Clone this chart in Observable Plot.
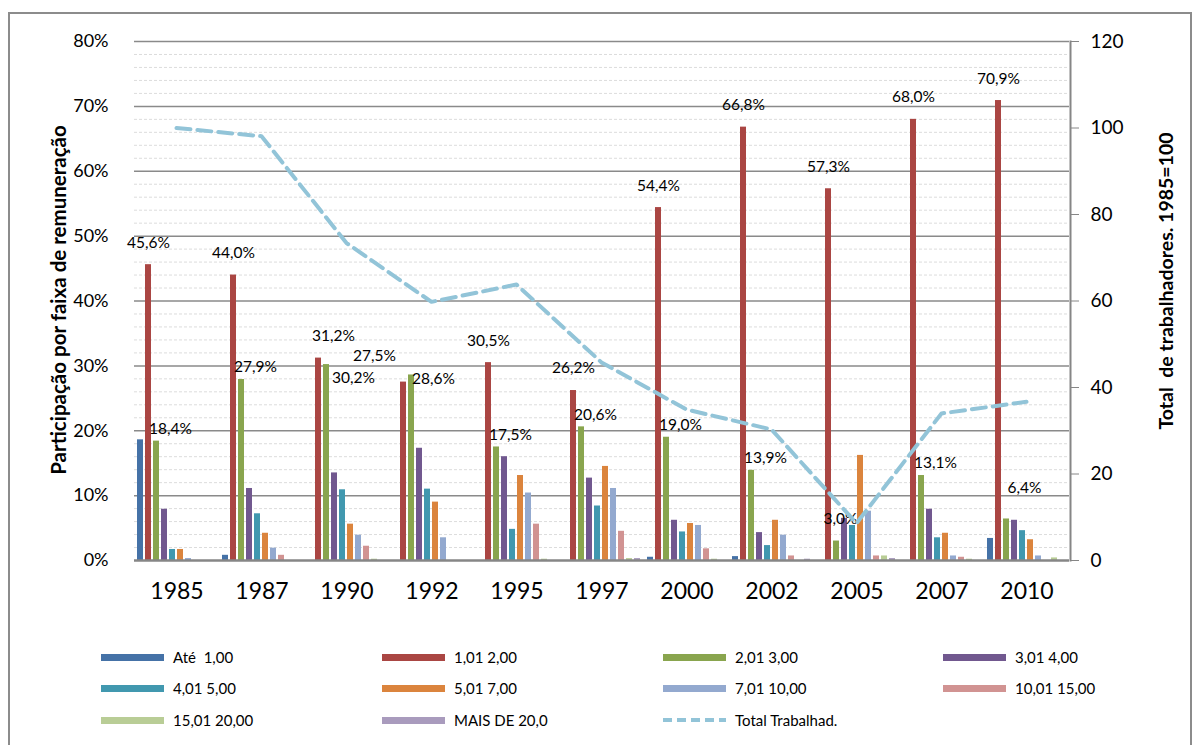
<!DOCTYPE html>
<html>
<head>
<meta charset="utf-8">
<script src="https://cdn.jsdelivr.net/npm/d3@7"></script>
<script src="https://cdn.jsdelivr.net/npm/@observablehq/plot@0.6"></script>
<style>
  body { margin: 0; background: #fff; font-family: Lato, "Open Sans", sans-serif; }
  #wrap { position: relative; width: 1200px; height: 745px; overflow: hidden; background: #fff; }
  #border { position: absolute; left: 8px; top: 12px; width: 1184px; height: 760px; border: 2px solid #8c8c8c; box-sizing: border-box; }
  .layer { position: absolute; left: 0; top: 0; }
  .ytitle { position: absolute; font-weight: bold; white-space: pre; color: #000;
            transform: translate(-50%, -50%) rotate(-90deg); }
  .lg { position: absolute; font-size: 15px; color: #000; display: flex; align-items: center; white-space: pre; }
  .sw { display: inline-block; width: 63px; height: 7px; margin-right: 9px; }
</style>
</head>
<body>
<div id="wrap">
  <div id="border"></div>
  <div id="bars" class="layer"></div>
  <div id="line" class="layer"></div>
  <div class="ytitle" style="left:58px; top:300px; font-size:20.5px;">Participação por faixa de remuneração</div>
  <div class="ytitle" style="left:1165px; top:281px; font-size:19.5px;">Total  de trabalhadores. 1985=100</div>
  <div id="legend"></div>
</div>
<script>
// ---- Data ----
const years = ["1985","1987","1990","1992","1995","1997","2000","2002","2005","2007","2010"];
const series = ["Até  1,00","1,01 2,00","2,01 3,00","3,01 4,00","4,01 5,00","5,01 7,00","7,01 10,00","10,01 15,00","15,01 20,00","MAIS DE 20,0"];
const colors = ["#4572A7","#AA4643","#89A54E","#71588F","#4198AF","#DB843D","#93A9CF","#D19392","#B9CD96","#A99BBD"];

const ate1   = [18.6, 0.8, 0.0, 0.0, 0.0, 0.0, 0.5, 0.6, 0.0, 0.0, 3.4];
const s1a2   = [45.6, 44.0, 31.2, 27.5, 30.5, 26.2, 54.4, 66.8, 57.3, 68.0, 70.9];
const s2a3   = [18.4, 27.9, 30.2, 28.6, 17.5, 20.6, 19.0, 13.9, 3.0, 13.1, 6.4];
const s3a4   = [7.9, 11.1, 13.5, 17.3, 16.0, 12.7, 6.2, 4.3, 6.5, 7.9, 6.2];
const s4a5   = [1.7, 7.2, 10.9, 11.0, 4.8, 8.4, 4.4, 2.3, 5.4, 3.5, 4.6];
const s5a7   = [1.7, 4.2, 5.6, 9.0, 13.1, 14.5, 5.7, 6.2, 16.2, 4.2, 3.2];
const s7a10  = [0.3, 1.9, 3.9, 3.5, 10.4, 11.1, 5.4, 3.9, 7.6, 0.7, 0.7];
const s10a15 = [0.0, 0.8, 2.2, 0.0, 5.6, 4.5, 1.8, 0.7, 0.7, 0.5, 0.0];
const s15a20 = [0.0, 0.0, 0.2, 0.0, 0.2, 0.3, 0.2, 0.0, 0.7, 0.2, 0.4];
const mais20 = [0.0, 0.0, 0.0, 0.0, 0.0, 0.3, 0.0, 0.2, 0.3, 0.0, 0.0];

const totalTrab = [100, 98.1, 73.4, 59.8, 63.8, 45.8, 34.9, 30.3, 8.6, 34.0, 36.7];
const lineName = "Total Trabalhad.";

const leftTicks = [0, 10, 20, 30, 40, 50, 60, 70, 80];
const minorTicks = d3.range(0, 81, 2).filter(d => d % 10 !== 0);
const rightTicks = [0, 20, 40, 60, 80, 100, 120];
const labeledRed = "1,01 2,00";
const labeledGreen = "2,01 3,00";

// ---- Label placement tweaks (style, in px) ----
const redDefault = {dx: 0, dy: -22};
const redTweaks = {"1990": {dx: 15, dy: -22}, "1992": {dx: -29, dy: -26}};
const greenDefault = {dx: 14, dy: -12};
const greenTweaks = {"1990": {dx: 27, dy: 13}, "1992": {dx: 22, dy: 4}, "2005": {dx: 4, dy: -22}, "2010": {dx: 18, dy: -31}};

// ---- Build tables ----
const seriesValues = [ate1, s1a2, s2a3, s3a4, s4a5, s5a7, s7a10, s10a15, s15a20, mais20];
const rows = [];
years.forEach((yr, i) => seriesValues.forEach((arr, j) => rows.push({year: yr, series: series[j], value: arr[i]})));
const lineRows = years.map((yr, i) => ({year: yr, value: totalTrab[i]}));
const fmt = v => v.toFixed(1).replace(".", ",") + "%";

const W = 1200, H = 620, mL = 132, mR = 130, mT = 41, mB = 60;

function labelMarks(name, def, tweaks) {
  const data = rows.filter(d => d.series === name);
  const groups = d3.group(data, d => JSON.stringify(tweaks[d.year] || def));
  return Array.from(groups, ([key, arr]) => {
    const o = JSON.parse(key);
    return Plot.text(arr, {fx: "year", x: "series", y: "value", text: d => fmt(d.value), dx: o.dx, dy: o.dy, fontSize: 15.5, fill: "#000"});
  });
}

const bars = Plot.plot({
  width: W, height: H, marginLeft: mL, marginRight: mR, marginTop: mT, marginBottom: mB,
  style: {fontFamily: "Lato, 'Open Sans', sans-serif", background: "transparent", overflow: "visible", color: "#000"},
  fx: {domain: years, paddingInner: 0, paddingOuter: 0, label: null},
  x: {domain: series, paddingInner: 0.23, paddingOuter: 0.3, axis: null},
  y: {domain: [0, 80]},
  color: {domain: series, range: colors},
  marks: [
    Plot.ruleY(minorTicks, {stroke: "#dcdcdc", strokeDasharray: "3,2", strokeWidth: 1}),
    Plot.ruleY(leftTicks.filter(d => d > 0), {stroke: "#8a8a8a", strokeWidth: 1.5}),
    Plot.barY(rows, {fx: "year", x: "series", y: "value", fill: "series"}),
    Plot.ruleY([0], {stroke: "#868686", strokeWidth: 2.5}),
    ...labelMarks(labeledRed, redDefault, redTweaks),
    ...labelMarks(labeledGreen, greenDefault, greenTweaks),
    Plot.axisFx({anchor: "bottom", tickSize: 0, tickPadding: 22, fontSize: 23, label: null}),
    Plot.axisY(leftTicks, {anchor: "left", tickSize: 0, tickPadding: 26, fontSize: 18, tickFormat: d => d + "%", label: null})
  ]
});
document.getElementById("bars").appendChild(bars);

const linePlot = Plot.plot({
  width: W, height: H, marginLeft: mL, marginRight: mR, marginTop: mT, marginBottom: mB,
  style: {fontFamily: "Lato, 'Open Sans', sans-serif", background: "transparent", overflow: "visible", color: "#000"},
  x: {domain: years, type: "point", padding: 0.5, axis: null},
  y: {domain: [0, 120]},
  marks: [
    Plot.line(lineRows, {x: "year", y: "value", stroke: "#92C4D8", strokeWidth: 4, strokeDasharray: "14,7"}),
    Plot.axisY(rightTicks, {anchor: "right", tickSize: 8, tickPadding: 12, fontSize: 19, stroke: "#868686", label: null}),
    Plot.frame({anchor: "right", stroke: "#868686", strokeWidth: 2})
  ]
});
document.getElementById("line").appendChild(linePlot);

// ---- Legend ----
const legendItems = series.map((s, i) => ({name: s, color: colors[i], dashed: false}));
legendItems.push({name: lineName, color: "#92C4D8", dashed: true});
const colX = [101, 382, 663, 943];
const rowY = [657, 688, 720];
const lg = document.getElementById("legend");
legendItems.forEach((it, k) => {
  const div = document.createElement("div");
  div.className = "lg";
  div.style.left = colX[k % 4] + "px";
  div.style.top = (rowY[Math.floor(k / 4)] - 10) + "px";
  div.style.height = "20px";
  if (it.dashed) {
    div.innerHTML = `<svg width="63" height="8" style="margin-right:9px"><line x1="0" y1="4" x2="63" y2="4" stroke="${it.color}" stroke-width="4" stroke-dasharray="9,5"/></svg>`;
  } else {
    div.innerHTML = `<span class="sw" style="background:${it.color}"></span>`;
  }
  const t = document.createElement("span");
  t.textContent = it.name;
  div.appendChild(t);
  lg.appendChild(div);
});
</script>
</body>
</html>
